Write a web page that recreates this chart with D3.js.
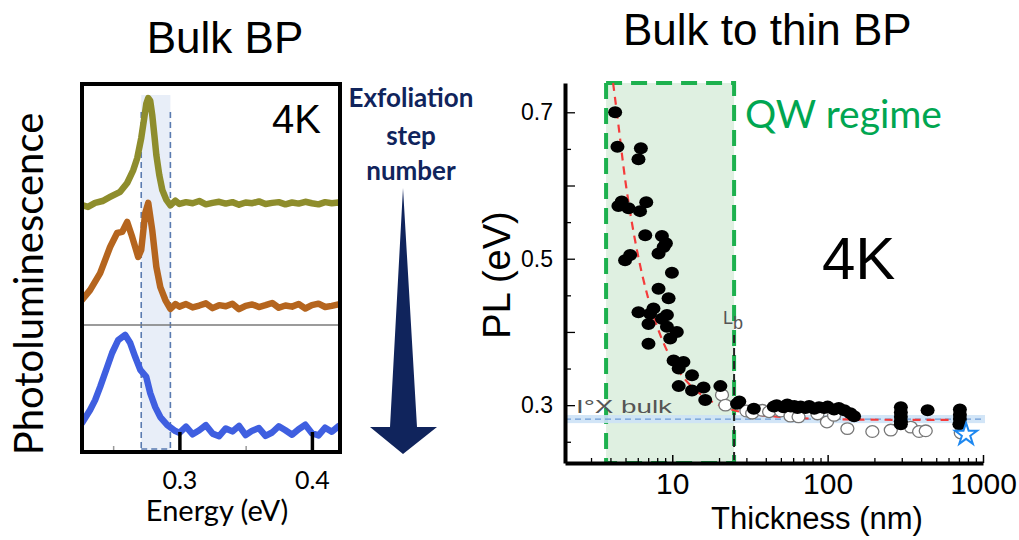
<!DOCTYPE html>
<html><head><meta charset="utf-8">
<script src="https://cdn.jsdelivr.net/npm/d3@7"></script>
<style>
html,body{margin:0;padding:0;background:#fff;}
svg{display:block;}
</style></head><body>
<svg id="c" width="1019" height="540"></svg>
<script>
// ================= DATA =================
// Left panel: PL spectra (energy in eV, intensity in a.u. incl. vertical offset)
const energyTicks = [0.3, 0.4];
const energyMinorTicks = [0.25, 0.35];
const bandEdges = [0.2712, 0.2932];
const separatorLevel = 34.5;

const flatEnergy = [0.300,0.305,0.310,0.315,0.320,0.325,0.330,0.335,0.340,0.345,0.350,0.355,0.360,
  0.365,0.370,0.375,0.380,0.385,0.390,0.395,0.400,0.405,0.410,0.415,0.420,0.425];

const oliveEnergy = [0.2265,0.2310,0.2364,0.2420,0.2477,0.2553,0.2606,0.2652,0.2682,0.2712,0.2735,0.2750,0.2765,
  0.2780,0.2795,0.2811,0.2826,0.2848,0.2871,0.2902,0.2932,0.2970];
const oliveIntensity = [67.1,66.6,67.7,68.2,69.3,70.7,73.1,76.6,79.9,85.3,90.8,94.6,96.2,95.4,91.6,86.1,80.7,
  75.3,71.2,68.5,67.0,68.3];
const oliveFlat = [67.4,67.9,67.6,68.2,67.3,67.7,68.0,67.5,67.9,67.2,67.8,67.6,68.1,67.4,67.7,67.9,
  67.3,67.8,67.5,68.0,67.6,67.3,67.9,67.6,67.8,67.4];

const brownEnergy = [0.2265,0.2326,0.2402,0.2477,0.2530,0.2568,0.2606,0.2644,0.2689,0.2712,0.2742,
  0.2765,0.2795,0.2826,0.2856,0.2894,0.2932,0.2970];
const brownIntensity = [41.3,44.0,48.6,55.7,59.5,59.8,62.5,58.4,53.0,54.9,64.9,67.7,60.3,50.3,44.8,
  41.3,38.9,40.2];
const brownFlat = [39.5,40.2,39.3,39.8,40.4,39.1,39.9,39.6,40.3,38.8,39.7,40.1,39.4,39.9,40.5,39.2,
  39.8,39.5,40.2,39.0,39.9,40.3,39.4,39.7,40.1,39.5];

const blueEnergy = [0.2265,0.2326,0.2364,0.2402,0.2455,0.2492,0.2538,0.2591,0.2629,0.2667,0.2705,
  0.2750,0.2780,0.2818,0.2856,0.2909,0.2970];
const blueIntensity = [7.9,11.4,14.1,17.7,23.1,26.9,30.4,31.8,29.6,25.8,22.3,20.4,16.0,12.2,9.5,7.3,5.7];
const blueFlat = [5.2,6.9,4.8,5.9,7.3,5.0,4.3,6.4,5.6,7.1,4.6,5.8,6.5,4.4,5.3,7.0,5.9,4.7,6.2,7.4,
  5.1,4.5,6.6,5.5,7.0,4.9];

// Right panel: PL peak energy vs thickness
const thicknessTicks = [10, 100, 1000];
const thicknessMinorTicks = [3,4,5,6,7,8,9,20,30,40,50,60,70,80,90,200,300,400,500,600,700,800,900];
const plTicks = [0.3, 0.4, 0.5, 0.6, 0.7];
const plLabeled = [0.3, 0.5, 0.7];
const plMinorTicks = [0.25, 0.35, 0.45, 0.55, 0.65];
const qwRange = [3.75, 25];
const lbThickness = 25;
const bulkBand = [0.2755, 0.2865];
const bulkLevel = 0.281;

const filledThickness = [4.29,4.44,6.28,6.06,4.73,4.5,5.23,6.8,6.2,6.7,8.58,8.8,8.16,9.1,5.36,4.97,9.95,
  8.16,9.47,6.06,7.2,7.57,9.24,8.58,7.03,9.24,10.7,9.7,7.03,10.2,11.8,11.0,13.4,11.0,13.4,15.9,20.4,16.3,
  26.1,27,33.5,45,47,52,55,58,61,64,67,72,76,82,88,95,100,110,118,128,140,148,296,296,296,296,296,440,
  710,710,710,705];
const filledPL = [0.700,0.653,0.651,0.636,0.578,0.572,0.569,0.577,0.565,0.532,0.531,0.516,0.507,0.521,
  0.505,0.498,0.481,0.459,0.446,0.427,0.425,0.432,0.423,0.418,0.411,0.407,0.400,0.391,0.384,0.361,0.359,
  0.350,0.341,0.326,0.320,0.324,0.326,0.307,0.302,0.305,0.295,0.298,0.300,0.297,0.301,0.298,0.299,0.296,
  0.298,0.296,0.299,0.295,0.297,0.296,0.298,0.294,0.296,0.293,0.289,0.285,0.297,0.290,0.284,0.278,0.274,
  0.293,0.294,0.287,0.281,0.274];
const openThickness = [20.9,22.0,30,32.7,38,42,50,57.7,65,86,99,110,134,194,255,343,388,428,720];
const openPL = [0.314,0.300,0.292,0.289,0.293,0.291,0.292,0.285,0.284,0.288,0.277,0.286,0.268,0.264,
  0.266,0.270,0.264,0.265,0.262];
const starThickness = [778];
const starPL = [0.260];
const fitThickness = [4.16,4.4,5,5.5,6,7,8,9,10,12,15,20,25,35,50,100,300,750];
const fitPL = [0.740,0.700,0.605,0.549,0.506,0.446,0.407,0.380,0.361,0.336,0.316,0.300,0.293,0.287,
  0.284,0.281,0.280,0.280];

// ================= DRAW =================
const svg = d3.select('#c');
svg.append('rect').attr('width',1019).attr('height',540).attr('fill','#fff');
const SANS = "'Liberation Sans', Arial, sans-serif";
const CAL = "Lato, 'Open Sans', sans-serif";

// ---------- Left panel ----------
const xE = d3.scaleLinear().domain([0.2265, 0.4212]).range([82, 340]);
const yI = d3.scaleLinear().domain([0, 100]).range([452, 84]);

svg.append('defs').append('clipPath').attr('id','clipL')
  .append('rect').attr('x',82).attr('y',84).attr('width',258).attr('height',368);

const gL = svg.append('g');
gL.append('rect').attr('x', xE(bandEdges[0])).attr('y', yI(97))
  .attr('width', xE(bandEdges[1]) - xE(bandEdges[0])).attr('height', yI(0) - yI(97))
  .attr('fill', '#e8eef8');
bandEdges.forEach(e => {
  gL.append('line').attr('x1', xE(e)).attr('x2', xE(e)).attr('y1', yI(92.4)).attr('y2', yI(0))
    .attr('stroke', '#5a7bb0').attr('stroke-width', 1.6).attr('stroke-dasharray', '6,4');
});
gL.append('line').attr('x1', xE(bandEdges[0])).attr('x2', xE(bandEdges[1]))
  .attr('y1', yI(0.8)).attr('y2', yI(0.8))
  .attr('stroke', '#5a7bb0').attr('stroke-width', 1.6).attr('stroke-dasharray', '6,4');

const specLine = d3.line().x(d => xE(d[0])).y(d => yI(d[1]));
const spectra = [
  {e: oliveEnergy.concat(flatEnergy), i: oliveIntensity.concat(oliveFlat), c: '#8e8d2c'},
  {e: brownEnergy.concat(flatEnergy), i: brownIntensity.concat(brownFlat), c: '#b5651e'},
  {e: blueEnergy.concat(flatEnergy), i: blueIntensity.concat(blueFlat), c: '#3f5fe0'}
];
const gSpec = gL.append('g').attr('clip-path', 'url(#clipL)');
spectra.forEach(s => {
  gSpec.append('path').attr('d', specLine(s.e.map((e, k) => [e, s.i[k]])))
    .attr('fill', 'none').attr('stroke', s.c).attr('stroke-width', 6.5)
    .attr('stroke-linejoin', 'round').attr('stroke-linecap', 'round');
});
gL.append('line').attr('x1', 82).attr('x2', 340).attr('y1', yI(separatorLevel)).attr('y2', yI(separatorLevel))
  .attr('stroke', '#7a7a7a').attr('stroke-width', 1.5);

// minor gray ticks
const axLminor = gL.append('g').attr('transform', `translate(0,${yI(0)})`)
  .call(d3.axisBottom(xE).tickValues(energyMinorTicks).tickSizeInner(-6).tickSizeOuter(0).tickFormat(''));
axLminor.select('.domain').remove();
axLminor.selectAll('.tick line').attr('stroke', '#999').attr('stroke-width', 1.5);
// major ticks with labels
const axL = gL.append('g').attr('transform', `translate(0,${yI(0)})`)
  .call(d3.axisBottom(xE).tickValues(energyTicks).tickSizeInner(-20).tickSizeOuter(0)
    .tickPadding(19).tickFormat(d3.format('.1f')));
axL.select('.domain').remove();
axL.selectAll('.tick line').attr('stroke', '#000').attr('stroke-width', 3.5);
axL.selectAll('.tick text').attr('font-family', CAL).attr('font-size', 25).attr('fill', '#000');

gL.append('rect').attr('x', 82).attr('y', 84).attr('width', 258).attr('height', 368)
  .attr('fill', 'none').attr('stroke', '#000').attr('stroke-width', 4);

svg.append('text').attr('x', 225).attr('y', 53).attr('text-anchor', 'middle')
  .attr('font-family', SANS).attr('font-size', 44).text('Bulk BP');
svg.append('text').attr('x', 272).attr('y', 133)
  .attr('font-family', SANS).attr('font-size', 40).text('4K');
svg.append('text').attr('x', 217).attr('y', 521).attr('text-anchor', 'middle')
  .attr('font-family', CAL).attr('font-size', 29).text('Energy (eV)');
svg.append('text').attr('transform', 'translate(43,284) rotate(-90)').attr('text-anchor', 'middle')
  .attr('font-family', CAL).attr('font-size', 40).text('Photoluminescence');

// exfoliation annotation
const navy = '#10245c';
[['Exfoliation', 107], ['step', 145], ['number', 180]].forEach(([t, y]) => {
  svg.append('text').attr('x', 411).attr('y', y).attr('text-anchor', 'middle')
    .attr('font-family', CAL).attr('font-weight', 'bold').attr('font-size', 26)
    .attr('fill', navy).text(t);
});
svg.append('polygon')
  .attr('points', [[403,188],[417,427],[437,427],[403,454],[370,427],[390,427]].map(p => p.join(',')).join(' '))
  .attr('fill', navy);

// ---------- Right panel ----------
const xT = d3.scaleLog().domain([2.04, 1000]).range([565, 983]);
const yP = d3.scaleLinear().domain([0.221, 0.74]).range([463, 83]);
const gR = svg.append('g');

gR.append('rect').attr('x', xT(qwRange[0])).attr('y', yP(0.74))
  .attr('width', xT(qwRange[1]) - xT(qwRange[0])).attr('height', yP(0.221) - yP(0.74))
  .attr('fill', '#dff0e1').attr('stroke', '#1db14e').attr('stroke-width', 4)
  .attr('stroke-dasharray', '16,9');

// bulk band
gR.append('rect').attr('x', 565).attr('y', yP(bulkBand[1])).attr('width', 985 - 565)
  .attr('height', yP(bulkBand[0]) - yP(bulkBand[1])).attr('fill', '#cde2f6').attr('opacity', 0.9);
gR.append('line').attr('x1', 565).attr('x2', 985).attr('y1', yP(bulkLevel)).attr('y2', yP(bulkLevel))
  .attr('stroke', '#6c9bd6').attr('stroke-width', 1.2).attr('stroke-dasharray', '6,4');
gR.append('text').attr('x', 576).attr('y', 413).attr('font-family', SANS).attr('font-size', 18)
  .attr('fill', '#555').attr('textLength', 96).attr('lengthAdjust', 'spacingAndGlyphs').text('I°X bulk');

// Lb
gR.append('line').attr('x1', xT(lbThickness)).attr('x2', xT(lbThickness))
  .attr('y1', 335).attr('y2', yP(0.221))
  .attr('stroke', '#222').attr('stroke-width', 2).attr('stroke-dasharray', '8,5');
const lbT = gR.append('text').attr('x', 723).attr('y', 324).attr('font-family', SANS)
  .attr('font-size', 18).attr('fill', '#555');
lbT.append('tspan').text('L');
lbT.append('tspan').attr('dy', 5).text('b');

// fit line
const fitLine = d3.line().x(d => xT(d[0])).y(d => yP(d[1])).curve(d3.curveMonotoneX);
gR.append('path').attr('d', fitLine(fitThickness.map((t, k) => [t, fitPL[k]])))
  .attr('fill', 'none').attr('stroke', '#f53b3b').attr('stroke-width', 2.2).attr('stroke-dasharray', '8,6');

// open circles
gR.selectAll('.open').data(openThickness.map((t, k) => [t, openPL[k]])).enter()
  .append('ellipse').attr('cx', d => xT(d[0])).attr('cy', d => yP(d[1]))
  .attr('rx', 6.5).attr('ry', 5.8).attr('fill', '#fff').attr('stroke', '#777').attr('stroke-width', 1.3);
// filled
gR.selectAll('.filled').data(filledThickness.map((t, k) => [t, filledPL[k]])).enter()
  .append('ellipse').attr('cx', d => xT(d[0])).attr('cy', d => yP(d[1]))
  .attr('rx', 7).attr('ry', 6).attr('fill', '#000');
// star
gR.selectAll('.star').data(starThickness.map((t, k) => [t, starPL[k]])).enter()
  .append('path').attr('transform', d => `translate(${xT(d[0])},${yP(d[1])})`)
  .attr('d', d3.symbol().type(d3.symbolStar).size(150))
  .attr('fill', '#fff').attr('stroke', '#1e88f0').attr('stroke-width', 2);

// axes
const yMinor = gR.append('g').attr('transform', 'translate(565,0)')
  .call(d3.axisLeft(yP).tickValues(plMinorTicks).tickSizeInner(-6).tickSizeOuter(0).tickFormat(''));
yMinor.select('.domain').remove();
const yAx = gR.append('g').attr('transform', 'translate(565,0)')
  .call(d3.axisLeft(yP).tickValues(plTicks).tickSizeInner(-10).tickSizeOuter(0).tickPadding(12)
    .tickFormat(d => plLabeled.some(v => Math.abs(v - d) < 1e-9) ? d3.format('.1f')(d) : ''));
yAx.select('.domain').attr('stroke-width', 4);
yAx.selectAll('.tick text').attr('font-family', SANS).attr('font-size', 23).attr('fill', '#000');
gR.selectAll('.tick line').attr('stroke-width', 1.3);

const xMinor = gR.append('g').attr('transform', 'translate(0,463)')
  .call(d3.axisBottom(xT).tickValues(thicknessMinorTicks).tickSizeInner(-5).tickSizeOuter(0).tickFormat(''));
xMinor.select('.domain').remove();
xMinor.selectAll('.tick line').attr('stroke-width', 1.3);
const xAx = gR.append('g').attr('transform', 'translate(0,463)')
  .call(d3.axisBottom(xT).tickValues(thicknessTicks).tickSizeInner(-8).tickSizeOuter(0).tickPadding(10)
    .tickFormat(d3.format('d')));
xAx.select('.domain').attr('stroke-width', 4);
xAx.selectAll('.tick line').attr('stroke-width', 1.5);
xAx.selectAll('.tick text').attr('font-family', SANS).attr('font-size', 30).attr('fill', '#000');

// right texts
svg.append('text').attr('x', 623).attr('y', 45).attr('font-family', SANS).attr('font-size', 44)
  .text('Bulk to thin BP');
svg.append('text').attr('x', 745).attr('y', 128).attr('font-family', CAL).attr('font-size', 39)
  .attr('fill', '#00a651').text('QW regime');
svg.append('text').attr('x', 822).attr('y', 279).attr('font-family', SANS).attr('font-size', 60).text('4K');
svg.append('text').attr('transform', 'translate(510,275) rotate(-90)').attr('text-anchor', 'middle')
  .attr('font-family', SANS).attr('font-size', 38).text('PL (eV)');
svg.append('text').attr('x', 817).attr('y', 529).attr('text-anchor', 'middle')
  .attr('font-family', SANS).attr('font-size', 31).text('Thickness (nm)');
</script>
</body></html>
